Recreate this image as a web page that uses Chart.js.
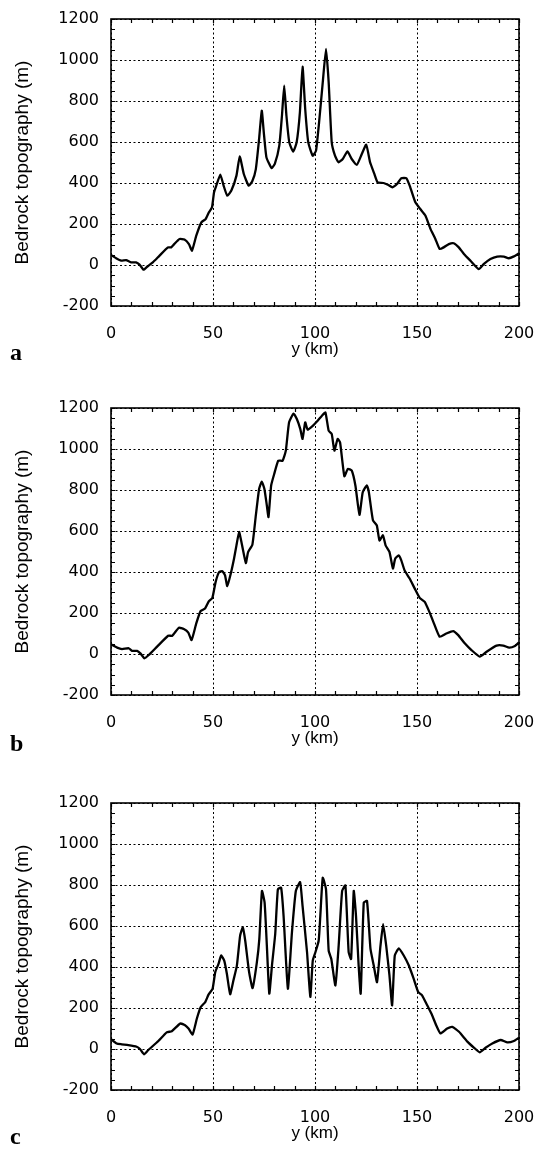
<!DOCTYPE html>
<html><head><meta charset="utf-8">
<script src="https://cdn.jsdelivr.net/npm/chart.js@4/dist/chart.umd.min.js"></script>
<style>
html,body{margin:0;padding:0;background:#fff;}
body{width:539px;height:1151px;position:relative;overflow:hidden;}
.panel{position:absolute;left:0;width:539px;height:360px;}
.lbl{position:absolute;left:10px;font:bold 24px "Liberation Serif","DejaVu Serif",serif;color:#000;line-height:24px;}
</style></head><body>
<div class="panel" style="top:0px"><canvas id="ca" width="539" height="360"></canvas></div>
<div class="panel" style="top:389px"><canvas id="cb" width="539" height="360"></canvas></div>
<div class="panel" style="top:784px"><canvas id="cc" width="539" height="360"></canvas></div>
<div class="lbl" style="top:340px">a</div>
<div class="lbl" style="top:731px">b</div>
<div class="lbl" style="top:1124px">c</div>
<script>
// ---- data (y in km, bedrock topography in m) ----
const xA = [0,2.5,5,7.4,9.8,12.3,14,16,18,20.5,23.8,27.9,29.5,31,33.6,36,38.2,39.7,41.8,44.3,46.4,48,49.5,50.5,51.6,53.6,55.2,57,59,61.5,63.1,65.1,67.5,69.2,71,72.6,73.9,74.9,76.2,78.7,80.3,82.5,83.8,84.9,86,87.4,89.3,91,92.6,93.9,95.2,96.7,98.9,100.5,102,103.8,105.4,106.7,108.2,109.8,111.5,113.6,115.9,118,120.5,122.6,125.1,127,129,130.7,133.6,136,137.9,140.2,142.3,144.8,146.7,149.2,151.6,154.1,156.6,159,161.1,163.1,165.6,168,170.5,173,176.2,180.3,182.8,186,189.3,192.6,195,197.5,200];
const yA = [49,33,21,24,13,13,2,-23,-6,13,46,86,86,102,127,124,102,70,143,208,224,257,281,354,387,441,387,338,363,436,530,444,387,407,468,615,753,647,525,473,493,582,728,875,728,598,553,598,745,967,761,598,533,558,696,891,1054,891,598,533,501,517,554,517,489,533,587,501,447,403,400,390,379,395,423,423,379,306,273,241,176,127,78,86,102,106,86,54,21,-20,5,29,41,41,33,42,57];

const xB = [0,3,5.4,8.7,10.3,12.8,14.4,16.4,18.5,22.6,28,30,33.3,35.7,37.9,39.5,41.8,43.9,46.1,48,49.7,51.3,53,54.6,55.9,57,58.7,60.3,61.5,62.8,64.1,66.1,67.2,69.3,71,72.6,73.9,75.2,76.4,77.2,78.5,80,82,84.1,85.7,87.3,89.5,91.1,92.8,93.9,95.2,96.4,98.9,101.3,103.4,105.1,106.7,108.2,109.5,111.1,112.3,114.4,116.1,118,119.8,121.8,123.4,125.4,126.4,128.4,130.3,131.6,133.3,134.6,136.5,138.2,139.3,141,142.3,143.9,146.4,148.9,151.3,153.8,155.9,158,161.1,164.4,167.7,170.2,173.4,176.7,180.8,184.1,189,192.3,195.2,198,200];
const yB = [47,31,24,28,15,15,3,-21,-5,36,89,89,128,122,104,68,149,209,222,258,274,352,400,404,384,331,392,465,530,595,538,444,497,533,676,805,841,805,724,668,822,878,943,943,992,1130,1173,1146,1097,1049,1130,1094,1113,1138,1162,1178,1089,1073,992,1049,1032,867,903,895,822,679,789,822,789,652,627,554,579,530,498,417,465,481,457,408,368,319,274,254,209,157,84,100,112,92,52,19,-13,11,41,41,31,39,57];

const xC = [0,2.8,5.2,8.5,12.6,14.2,16.2,18.3,23.2,27.3,29.8,33.9,36.3,38,40,42.1,44,46.2,47.8,49.8,51.1,52.7,54,55.5,56.8,58.4,60,61.7,63.3,64.6,65.8,67.7,69.4,71.5,72.7,74,75.3,76.4,77.6,78.9,80.5,81.8,83.4,84.6,86.7,88.7,90.6,92.7,93.9,96.1,97.7,98.9,100.2,101.8,102.6,103.8,105.4,106.7,108,110,111.6,113.3,114.9,116.5,117.7,119,120.1,121.4,122.4,123.9,125.5,127.2,128.8,130.4,132.1,133.4,134.9,136.5,137.8,139.1,141.1,143.5,146,148.4,150.6,152.5,155,157.4,159.4,161.5,164.8,167.3,170.6,174.7,178,180.7,183.6,186.9,191,194.3,197.5,200];
const yC = [48,27,23,19,11,0,-26,-5,39,81,87,124,116,100,71,149,205,229,265,294,375,415,456,431,367,267,334,407,553,593,528,375,297,423,536,771,714,504,270,407,561,779,787,649,294,569,771,814,698,472,254,431,472,528,649,835,779,480,439,310,504,771,798,472,439,771,649,407,270,714,722,488,407,326,504,609,504,359,213,456,491,456,407,342,278,262,213,165,116,76,100,108,84,36,6,-16,6,27,44,32,39,55];

// ---- axes ----
const xTicks = [0,50,100,150,200];
const yTicks = [-200,0,200,400,600,800,1000,1200];
const xMinorStep = 10, yMinorStep = 50;
const xTitle = 'y (km)';
const yTitle = 'Bedrock topography (m)';

const framePlugin = {
  id: 'frame',
  afterDraw(chart) {
    const {ctx, chartArea: a, scales: {x, y}} = chart;
    ctx.save();
    ctx.strokeStyle = '#000';
    ctx.lineWidth = 1.2;
    ctx.beginPath();
    for (let v = x.min; v <= x.max; v += xMinorStep) {
      const px = Math.round(x.getPixelForValue(v)) + 0.5;
      ctx.moveTo(px, a.bottom); ctx.lineTo(px, a.bottom - 4);
      ctx.moveTo(px, a.top); ctx.lineTo(px, a.top + 4);
    }
    for (let v = y.min; v <= y.max; v += yMinorStep) {
      const py = Math.round(y.getPixelForValue(v)) + 0.5;
      ctx.moveTo(a.left, py); ctx.lineTo(a.left + 4, py);
      ctx.moveTo(a.right, py); ctx.lineTo(a.right - 4, py);
    }
    ctx.stroke();
    ctx.lineWidth = 1.6;
    ctx.strokeRect(a.left, a.top, a.right - a.left, a.bottom - a.top);
    ctx.restore();
  }
};

function makeChart(id, xs, ys) {
  const pts = xs.map((v, i) => ({x: v, y: ys[i]}));
  return new Chart(document.getElementById(id), {
    type: 'line',
    data: { datasets: [{ data: pts, borderColor: '#000', borderWidth: 2.3, pointRadius: 0, tension: 0.15, fill: false }] },
    options: {
      responsive: false, animation: false, devicePixelRatio: 1,
      layout: { padding: { left: 11, right: 20, top: 19, bottom: 0 } },
      plugins: { legend: { display: false }, tooltip: { enabled: false } },
      scales: {
        x: {
          type: 'linear', min: 0, max: 200,
          afterBuildTicks: s => { s.ticks = xTicks.map(v => ({value: v})); },
          afterFit: s => { s.height = 54; s.paddingLeft = 0; s.paddingRight = 0; },
          ticks: { color: '#000', font: { family: 'DejaVu Sans', size: 16 }, padding: 18, maxRotation: 0, autoSkip: false, callback: v => String(v) },
          grid: { color: '#000', lineWidth: 1, drawTicks: false },
          border: { display: false, dash: [2, 2.5] },
          title: { display: true, text: xTitle, color: '#000', font: { family: 'Liberation Sans', size: 17 }, padding: 0 }
        },
        y: {
          type: 'linear', min: -200, max: 1200,
          afterBuildTicks: s => { s.ticks = yTicks.map(v => ({value: v})); },
          afterFit: s => { s.width = 100; s.paddingTop = 0; s.paddingBottom = 0; },
          ticks: { color: '#000', font: { family: 'DejaVu Sans', size: 16 }, padding: 12, callback: v => String(v) },
          grid: { color: '#000', lineWidth: 1, drawTicks: false },
          border: { display: false, dash: [2, 2.5] },
          title: { display: true, text: yTitle, color: '#000', font: { family: 'Liberation Sans', size: 19 }, padding: 0 }
        }
      }
    },
    plugins: [framePlugin]
  });
}
makeChart('ca', xA, yA);
makeChart('cb', xB, yB);
makeChart('cc', xC, yC);
</script>
</body></html>
